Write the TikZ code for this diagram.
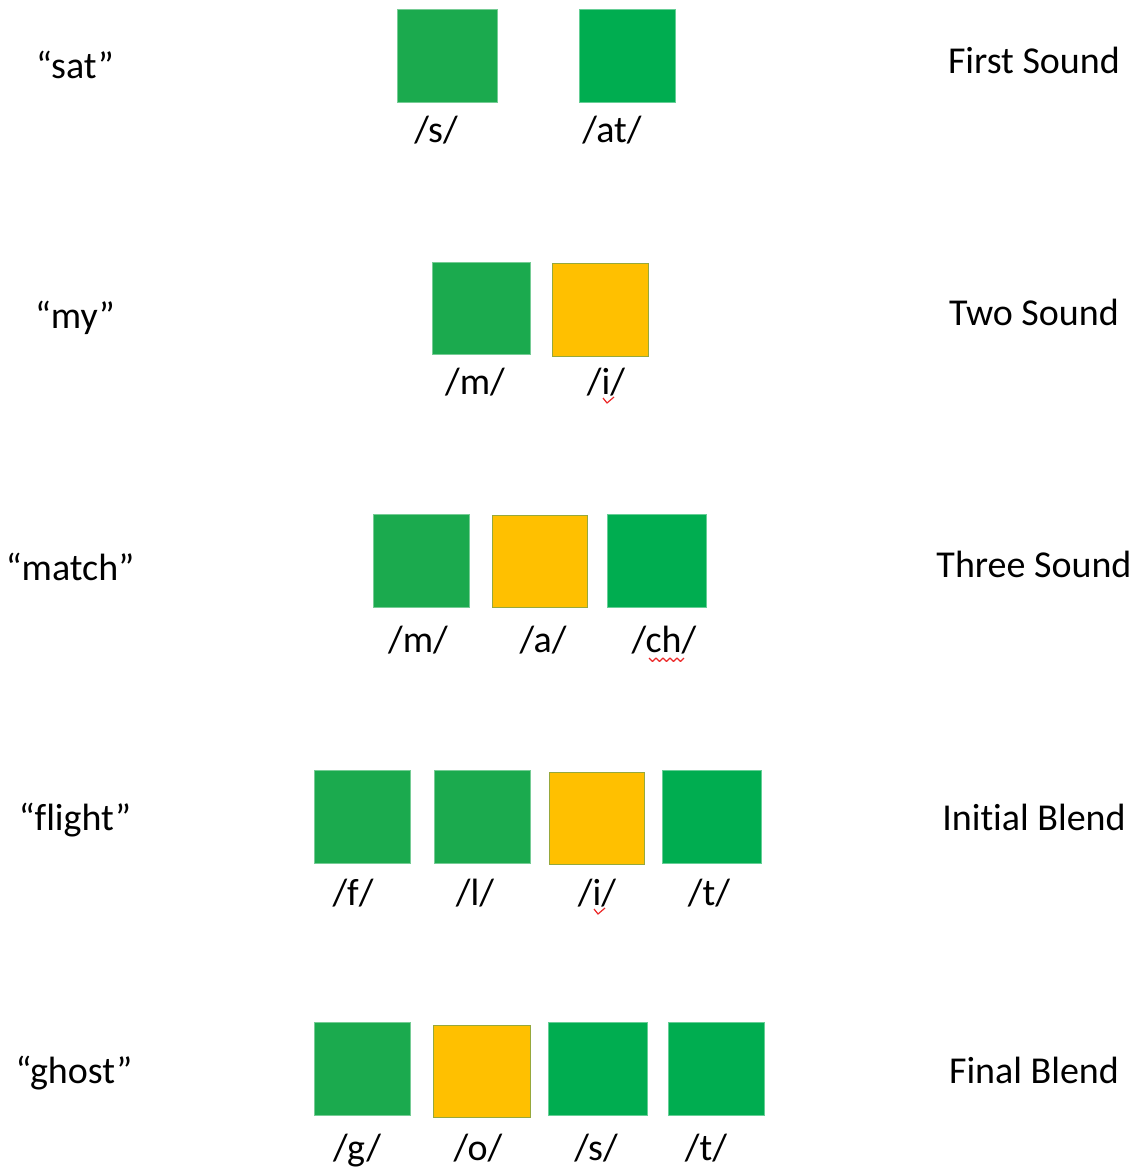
\documentclass[tikz,border=0pt]{standalone}
\usepackage{fontspec}
\setmainfont{Carlito}[Ligatures=NoCommon]
\definecolor{greenA}{RGB}{27,170,78}
\definecolor{greenB}{RGB}{0,173,80}
\definecolor{orangeC}{RGB}{255,192,0}
\definecolor{orangeEdge}{RGB}{150,168,60}
\definecolor{squig}{RGB}{235,40,40}
\tikzset{
  gA/.style={rectangle, inner sep=0pt, fill=greenA, draw=greenA!60!white, line width=0.6pt},
  gB/.style={rectangle, inner sep=0pt, fill=greenB, draw=greenB!60!white, line width=0.6pt},
  oC/.style={rectangle, inner sep=0pt, fill=orangeC, draw=orangeEdge, line width=1pt},
  lbl/.style={anchor=base, inner sep=0pt, font=\fontsize{38}{44}\selectfont},
  wordlbl/.style={anchor=base, inner sep=0pt, font=\fontsize{38}{44}\selectfont},
  kindlbl/.style={anchor=base, inner sep=0pt, font=\fontsize{38}{44}\selectfont},
  squigline/.style={draw=squig, line width=1.2pt, line join=round}
}
\newcommand{\sqbx}[6]{\node[#2, minimum width={(#5-#3)*1pt}, minimum height={(#6-#4)*1pt}] (#1) at ({(#3+#5)/2},{(#4+#6)/2}) {};}
\begin{document}
\begin{tikzpicture}[x=1pt,y=-1pt]
\useasboundingbox (0,0) rectangle (1146,1170);
% Row 1
\node[wordlbl] (w1) at (75,78) {“sat”};
\node[kindlbl] (k1) at (1034,73) {First Sound};
\sqbx{b11}{gA}{397}{9}{497}{102}
\sqbx{b12}{gB}{579}{9}{675}{102}
\node[lbl] (l11) at (436,142) {/s/};
\node[lbl] (l12) at (612,142) {/at/};
% Row 2
\node[wordlbl] (w2) at (75,328) {“my”};
\node[kindlbl] (k2) at (1034,325) {Two Sound};
\sqbx{b21}{gA}{432}{262}{530}{354}
\sqbx{b22}{oC}{552}{263}{648}{356}
\node[lbl] (l21) at (475,394) {/m/};
\node[lbl] (l22) at (606,394) {/i/};
\draw[squigline] (603,398) -- (607,403) -- (614,397);
% Row 3
\node[wordlbl] (w3) at (70,580) {“match”};
\node[kindlbl] (k3) at (1034,577) {Three Sound};
\sqbx{b31}{gA}{373}{514}{469}{607}
\sqbx{b32}{oC}{492}{515}{587}{607}
\sqbx{b33}{gB}{607}{514}{706}{607}
\node[lbl] (l31) at (418,652) {/m/};
\node[lbl] (l32) at (543,652) {/a/};
\node[lbl] (l33) at (664,652) {/ch/};
\draw[squigline] (649,658) -- (652.5,661.5) -- (656,658) -- (659.5,661.5) -- (663,658) -- (666.5,661.5) -- (670,658) -- (673.5,661.5) -- (677,658) -- (680.5,661.5) -- (684,658);
% Row 4
\node[wordlbl] (w4) at (75,830) {“flight”};
\node[kindlbl] (k4) at (1034,830) {Initial Blend};
\sqbx{b41}{gA}{314}{770}{410}{863}
\sqbx{b42}{gA}{434}{770}{530}{863}
\sqbx{b43}{oC}{549}{772}{644}{864}
\sqbx{b44}{gB}{662}{770}{761}{863}
\node[lbl] (l41) at (353,905) {/f/};
\node[lbl] (l42) at (475,905) {/l/};
\node[lbl] (l43) at (597,905) {/i/};
\node[lbl] (l44) at (709,905) {/t/};
\draw[squigline] (594,909) -- (598,914) -- (605,908);
% Row 5
\node[wordlbl] (w5) at (74,1083) {“ghost”};
\node[kindlbl] (k5) at (1034,1083) {Final Blend};
\sqbx{b51}{gA}{314}{1022}{410}{1115}
\sqbx{b52}{oC}{433}{1025}{530}{1117}
\sqbx{b53}{gB}{548}{1022}{647}{1115}
\sqbx{b54}{gB}{668}{1022}{764}{1115}
\node[lbl] (l51) at (357,1160) {/g/};
\node[lbl] (l52) at (478,1160) {/o/};
\node[lbl] (l53) at (596,1160) {/s/};
\node[lbl] (l54) at (706,1160) {/t/};
\end{tikzpicture}
\end{document}
